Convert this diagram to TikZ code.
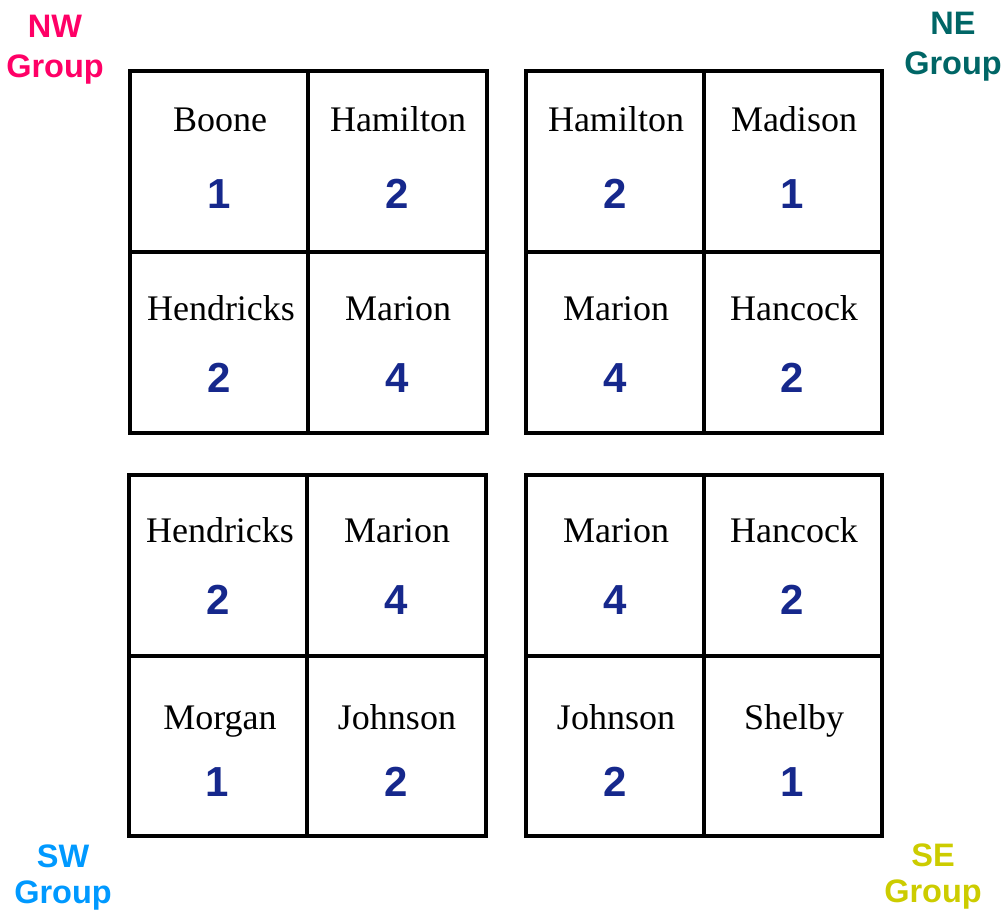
\documentclass[tikz,border=0pt]{standalone}
\usepackage{fontspec}
\setmainfont{Liberation Serif}
\newfontfamily\numfont{Liberation Sans}
\definecolor{numblue}{RGB}{22,40,140}
\definecolor{nwcol}{RGB}{255,0,102}
\definecolor{necol}{RGB}{0,102,102}
\definecolor{swcol}{RGB}{0,153,255}
\definecolor{secol}{RGB}{204,204,0}
\tikzset{
  grid/.style={line width=3.4pt, draw=black},
  county/.style={font=\fontsize{36}{40}\selectfont, inner sep=0pt, anchor=base},
  count/.style={font=\numfont\bfseries\fontsize{42}{46}\selectfont, text=numblue, inner sep=0pt, anchor=base},
  grp/.style={font=\numfont\bfseries\fontsize{32.5}{40}\selectfont, inner sep=0pt, anchor=base},
}
\begin{document}
\begin{tikzpicture}[x=1pt,y=-1pt]
\useasboundingbox (0,0) rectangle (1003,911);
% boxes
\draw[grid] (130,71) rectangle (487,433) (308,71) -- (308,433) (130,252) -- (487,252);
\draw[grid] (526,71) rectangle (882,433) (704,71) -- (704,433) (526,252) -- (882,252);
\draw[grid] (129,475) rectangle (486,836) (307,475) -- (307,836) (129,656) -- (486,656);
\draw[grid] (526,475) rectangle (882,836) (704,475) -- (704,836) (526,656) -- (882,656);
% NW
\node[county] (nw1n) at (220,131) {Boone};
\node[count]  (nw1c) at (219,208) {1};
\node[county] (nw2n) at (398,131) {Hamilton};
\node[count]  (nw2c) at (397,208) {2};
\node[county] (nw3n) at (221,320) {Hendricks};
\node[count]  (nw3c) at (219,392) {2};
\node[county] (nw4n) at (398,320) {Marion};
\node[count]  (nw4c) at (397,392) {4};
% NE
\node[county] (ne1n) at (616,131) {Hamilton};
\node[count]  (ne1c) at (615,208) {2};
\node[county] (ne2n) at (794,131) {Madison};
\node[count]  (ne2c) at (792,208) {1};
\node[county] (ne3n) at (616,320) {Marion};
\node[count]  (ne3c) at (615,392) {4};
\node[county] (ne4n) at (794,320) {Hancock};
\node[count]  (ne4c) at (792,392) {2};
% SW
\node[county] (sw1n) at (220,542) {Hendricks};
\node[count]  (sw1c) at (218,614) {2};
\node[county] (sw2n) at (397,542) {Marion};
\node[count]  (sw2c) at (396,614) {4};
\node[county] (sw3n) at (220,729) {Morgan};
\node[count]  (sw3c) at (217,796) {1};
\node[county] (sw4n) at (397,729) {Johnson};
\node[count]  (sw4c) at (396,796) {2};
% SE
\node[county] (se1n) at (616,542) {Marion};
\node[count]  (se1c) at (615,614) {4};
\node[county] (se2n) at (794,542) {Hancock};
\node[count]  (se2c) at (792,614) {2};
\node[county] (se3n) at (616,729) {Johnson};
\node[count]  (se3c) at (615,796) {2};
\node[county] (se4n) at (794,729) {Shelby};
\node[count]  (se4c) at (792,796) {1};
% group labels
\node[grp, text=nwcol] (nwl1) at (55,37) {NW};
\node[grp, text=nwcol] (nwl2) at (55,77) {Group};
\node[grp, text=necol] (nel1) at (953,34) {NE};
\node[grp, text=necol] (nel2) at (953,74) {Group};
\node[grp, text=swcol] (swl1) at (63,867) {SW};
\node[grp, text=swcol] (swl2) at (63,903) {Group};
\node[grp, text=secol] (sel1) at (933,866) {SE};
\node[grp, text=secol] (sel2) at (933,902) {Group};
\end{tikzpicture}
\end{document}
